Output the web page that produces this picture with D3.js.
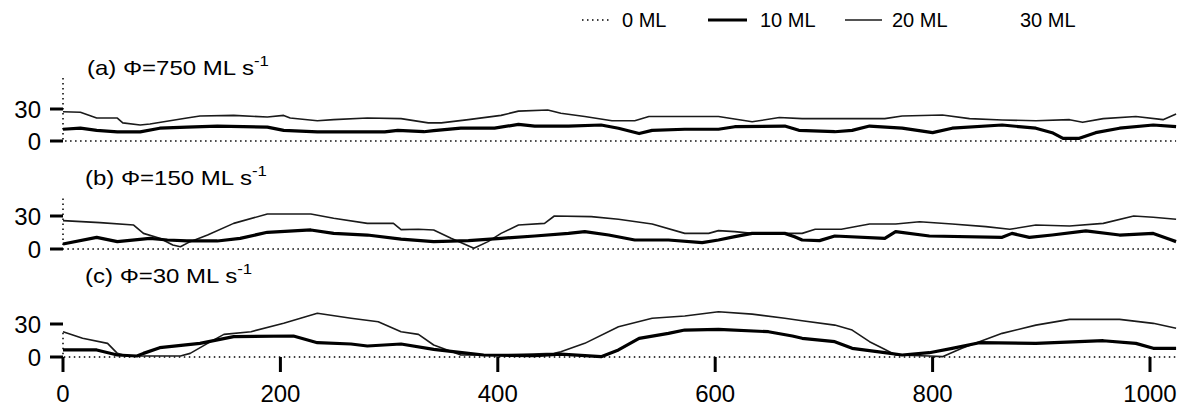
<!DOCTYPE html>
<html>
<head>
<meta charset="utf-8">
<script src="https://cdn.jsdelivr.net/npm/d3@7"></script>
<style>
  body { margin: 0; background: #fff; }
  text { font-family: "Liberation Sans", Arial, sans-serif; fill: #000; }
</style>
</head>
<body>
<div id="chart"></div>
<script>
// x ticks and y ticks
var xTicks = [0, 200, 400, 600, 800, 1000];
var yTicks = [0, 30];
var seriesNames = ["0 ML", "10 ML", "20 ML", "30 ML"];
var panelTitles = ["(a) \u03A6=750 ML s", "(b) \u03A6=150 ML s", "(c) \u03A6=30 ML s"];

// panel (a) Phi = 750 ML/s, values as [time, coverage]
var a0 = [[0, 59], [0, 0], [1024, 0]];
var a10 = [[0,11],[16,12],[31,10],[50,8.5],[71,8.5],[89,12],[114,13],[142,14],[188,13],[203,10],[234,8.5],[265,8.5],[296,8.5],[308,10],[332,8.7],[341,9.7],[366,12],[397,12],[419,15.6],[434,14],[465,14],[495,15],[511,12],[530,7],[542,10],[572,11],[603,11],[618,13.4],[664,14],[677,10],[710,8.7],[726,10],[742,14],[772,12],[800,7.8],[818,12],[864,15],[895,12],[910,7.8],[920,2.5],[935,2.5],[950,7.8],[972,12],[1003,15],[1024,13.4]];
var a20 = [[0,27.4],[16,27],[31,21.5],[50,21.5],[55,17],[71,15],[80,16],[114,21.5],[126,23.5],[157,24],[188,22.5],[203,24],[209,21.5],[234,19],[249,20],[280,21.5],[311,21],[336,17],[348,17],[373,20],[403,24],[419,28],[446,29],[458,26],[480,23],[505,19],[526,19],[539,23],[572,23],[603,23],[634,18],[659,22],[680,21],[710,21],[756,21],[772,23.4],[809,24.4],[834,21],[864,19.7],[895,19],[926,20],[938,17.5],[957,21],[987,23],[1012,20],[1024,25.3]];

// panel (b) Phi = 150 ML/s
var b0 = [[0, 46], [0, 0], [1024, 0]];
var b10 = [[0,4.5],[31,10.6],[50,6.7],[80,9.7],[96,8.2],[114,7.3],[142,7.3],[163,9.7],[188,15.2],[228,17.3],[249,14.2],[280,12.7],[311,9],[341,6.7],[373,7.6],[403,9.7],[434,11.8],[465,14.2],[480,15.8],[502,12.7],[526,8.2],[557,8.2],[588,5.8],[603,8.2],[618,11.2],[634,14.2],[664,14.2],[673,11.2],[680,8.2],[696,7.6],[710,11.8],[756,9.7],[766,15.8],[797,11.8],[864,10.6],[873,14.2],[889,10.6],[910,12.7],[941,16.4],[972,12.7],[1003,14.2],[1018,8.8],[1024,6.7]];
var b20 = [[0,25.8],[34,24],[65,21.8],[74,14.2],[89,9.7],[101,3.6],[108,2],[117,6.7],[133,12.7],[157,23.3],[188,31.8],[228,31.8],[249,27.9],[280,23.3],[304,23.3],[311,17.6],[327,17.9],[341,17.3],[357,9.7],[378,0.6],[391,6.7],[403,14.2],[419,21.8],[443,23.3],[452,30],[486,29.4],[511,27],[542,22.7],[572,14.2],[594,14.2],[603,16.7],[618,15.8],[634,14.2],[680,14.2],[692,17.9],[716,17.9],[742,22.7],[766,22.7],[788,24.8],[818,22.7],[849,20.3],[871,17.9],[895,21.8],[926,20.9],[957,23.3],[985,30],[1003,28.8],[1024,27]];

// panel (c) Phi = 30 ML/s
var c0 = [[0, 22], [0, 0], [1024, 0]];
var c10 = [[0,6.4],[31,6.4],[50,1.8],[68,0.9],[74,3.3],[89,8.5],[126,12.4],[157,18.5],[212,19.1],[234,13],[265,11.8],[280,10],[311,11.8],[341,7],[373,3.3],[387,1.8],[434,1.2],[458,2.7],[495,0.3],[511,6.4],[530,17],[557,21.5],[572,24.5],[603,25.2],[649,23],[671,19.1],[680,17],[710,13.9],[726,7.9],[756,3.9],[772,1.8],[797,3.9],[818,7.9],[843,13],[895,12.4],[957,14.8],[987,12.4],[1003,7.9],[1024,7.9]];
var c20 = [[0,23],[18,17],[41,12.4],[50,3.3],[59,0.9],[80,0.9],[108,0.9],[117,3.3],[133,12.4],[148,20.6],[173,23],[203,30.6],[234,39.7],[265,35.2],[290,32.1],[311,23],[327,20.6],[341,10.9],[366,1.8],[403,1.8],[452,3.3],[458,4.8],[480,12.4],[511,27.5],[542,35.2],[572,37.3],[603,41.2],[634,39],[664,35.2],[680,33],[710,29],[726,24.5],[742,13.9],[754,7.9],[766,1.8],[797,0.9],[809,0.3],[827,7.9],[843,13.9],[864,21.5],[895,29],[926,34.2],[972,34.2],[1003,30.6],[1024,26.1]];

var panels = [
  {title: panelTitles[0], s0: a0, s10: a10, s20: a20, base: 141, top30: 109, titleX: 87, titleY: 75},
  {title: panelTitles[1], s0: b0, s10: b10, s20: b20, base: 249, top30: 216, titleX: 85, titleY: 185},
  {title: panelTitles[2], s0: c0, s10: c10, s20: c20, base: 357, top30: 324, titleX: 85, titleY: 283}
];

var width = 1193, height = 407;

var svg = d3.select("#chart")
  .append("svg")
    .attr("width", width)
    .attr("height", height);

// shared x scale
var x = d3.scaleLinear()
  .domain([0, 1000])
  .range([63, 1150]);

// line styles per series
var styles = {
  s0: {width: 1.5, dash: "1.5,3.5", color: "#000"},
  s10: {width: 3.2, dash: null, color: "#000"},
  s20: {width: 1.6, dash: null, color: "#1a1a1a"}
};

panels.forEach(function(p) {
  var y = d3.scaleLinear()
    .domain([0, 30])
    .range([p.base, p.top30]);

  var line = d3.line()
    .x(function(d) { return x(d[0]); })
    .y(function(d) { return y(d[1]); });

  var g = svg.append("g");

  // series, dotted 0 ML first
  ["s0", "s20", "s10"].forEach(function(k) {
    g.append("path")
      .datum(p[k])
      .attr("d", line)
      .style("fill", "none")
      .style("stroke", styles[k].color)
      .attr("stroke-width", styles[k].width)
      .attr("stroke-linejoin", "round")
      .attr("stroke-dasharray", styles[k].dash);
  });

  // y ticks: short thick marks with labels
  g.selectAll(".ytick")
    .data(yTicks).enter()
    .append("line")
      .attr("x1", 50)
      .attr("x2", 63)
      .attr("y1", function(d) { return y(d); })
      .attr("y2", function(d) { return y(d); })
      .style("stroke", "#000")
      .attr("stroke-width", 3);

  g.selectAll(".ylab")
    .data(yTicks).enter()
    .append("text")
      .attr("x", 41)
      .attr("y", function(d) { return y(d); })
      .attr("dy", "0.36em")
      .style("text-anchor", "end")
      .style("font-size", "24px")
      .text(function(d) { return d; });

  // panel title with superscript
  var t = g.append("text")
    .attr("transform", "translate(" + p.titleX + "," + p.titleY + ") scale(1.2,1)")
    .style("font-size", "20px");
  t.append("tspan").text(p.title);
  t.append("tspan")
    .attr("dy", -9)
    .style("font-size", "14px")
    .text("-1");
});

// x axis ticks under the last panel
var xBase = panels[2].base;
svg.selectAll(".xtick")
  .data(xTicks).enter()
  .append("line")
    .attr("x1", function(d) { return x(d); })
    .attr("x2", function(d) { return x(d); })
    .attr("y1", xBase)
    .attr("y2", xBase + 15)
    .style("stroke", "#000")
    .attr("stroke-width", 3);

svg.selectAll(".xlab")
  .data(xTicks).enter()
  .append("text")
    .attr("x", function(d) { return x(d); })
    .attr("y", 402)
    .style("text-anchor", "middle")
    .style("font-size", "24px")
    .text(function(d) { return d; });

// legend across the top
var legendPos = [
  {x1: 582, x2: 610, tx: 622, style: styles.s0},
  {x1: 708, x2: 747, tx: 760, style: styles.s10},
  {x1: 845, x2: 882, tx: 892, style: styles.s20},
  {x1: 980, x2: 1010, tx: 1020, style: {width: 1, dash: null, color: "#fff"}}
];

var legend = svg.selectAll(".legend")
  .data(seriesNames).enter()
  .append("g");

legend.append("line")
  .attr("x1", function(d, i) { return legendPos[i].x1; })
  .attr("x2", function(d, i) { return legendPos[i].x2; })
  .attr("y1", 20)
  .attr("y2", 20)
  .style("stroke", function(d, i) { return legendPos[i].style.color; })
  .attr("stroke-width", function(d, i) { return legendPos[i].style.width; })
  .attr("stroke-dasharray", function(d, i) { return legendPos[i].style.dash; });

legend.append("text")
  .attr("x", function(d, i) { return legendPos[i].tx; })
  .attr("y", 27)
  .style("font-size", "20px")
  .text(function(d) { return d; });
</script>
</body>
</html>
